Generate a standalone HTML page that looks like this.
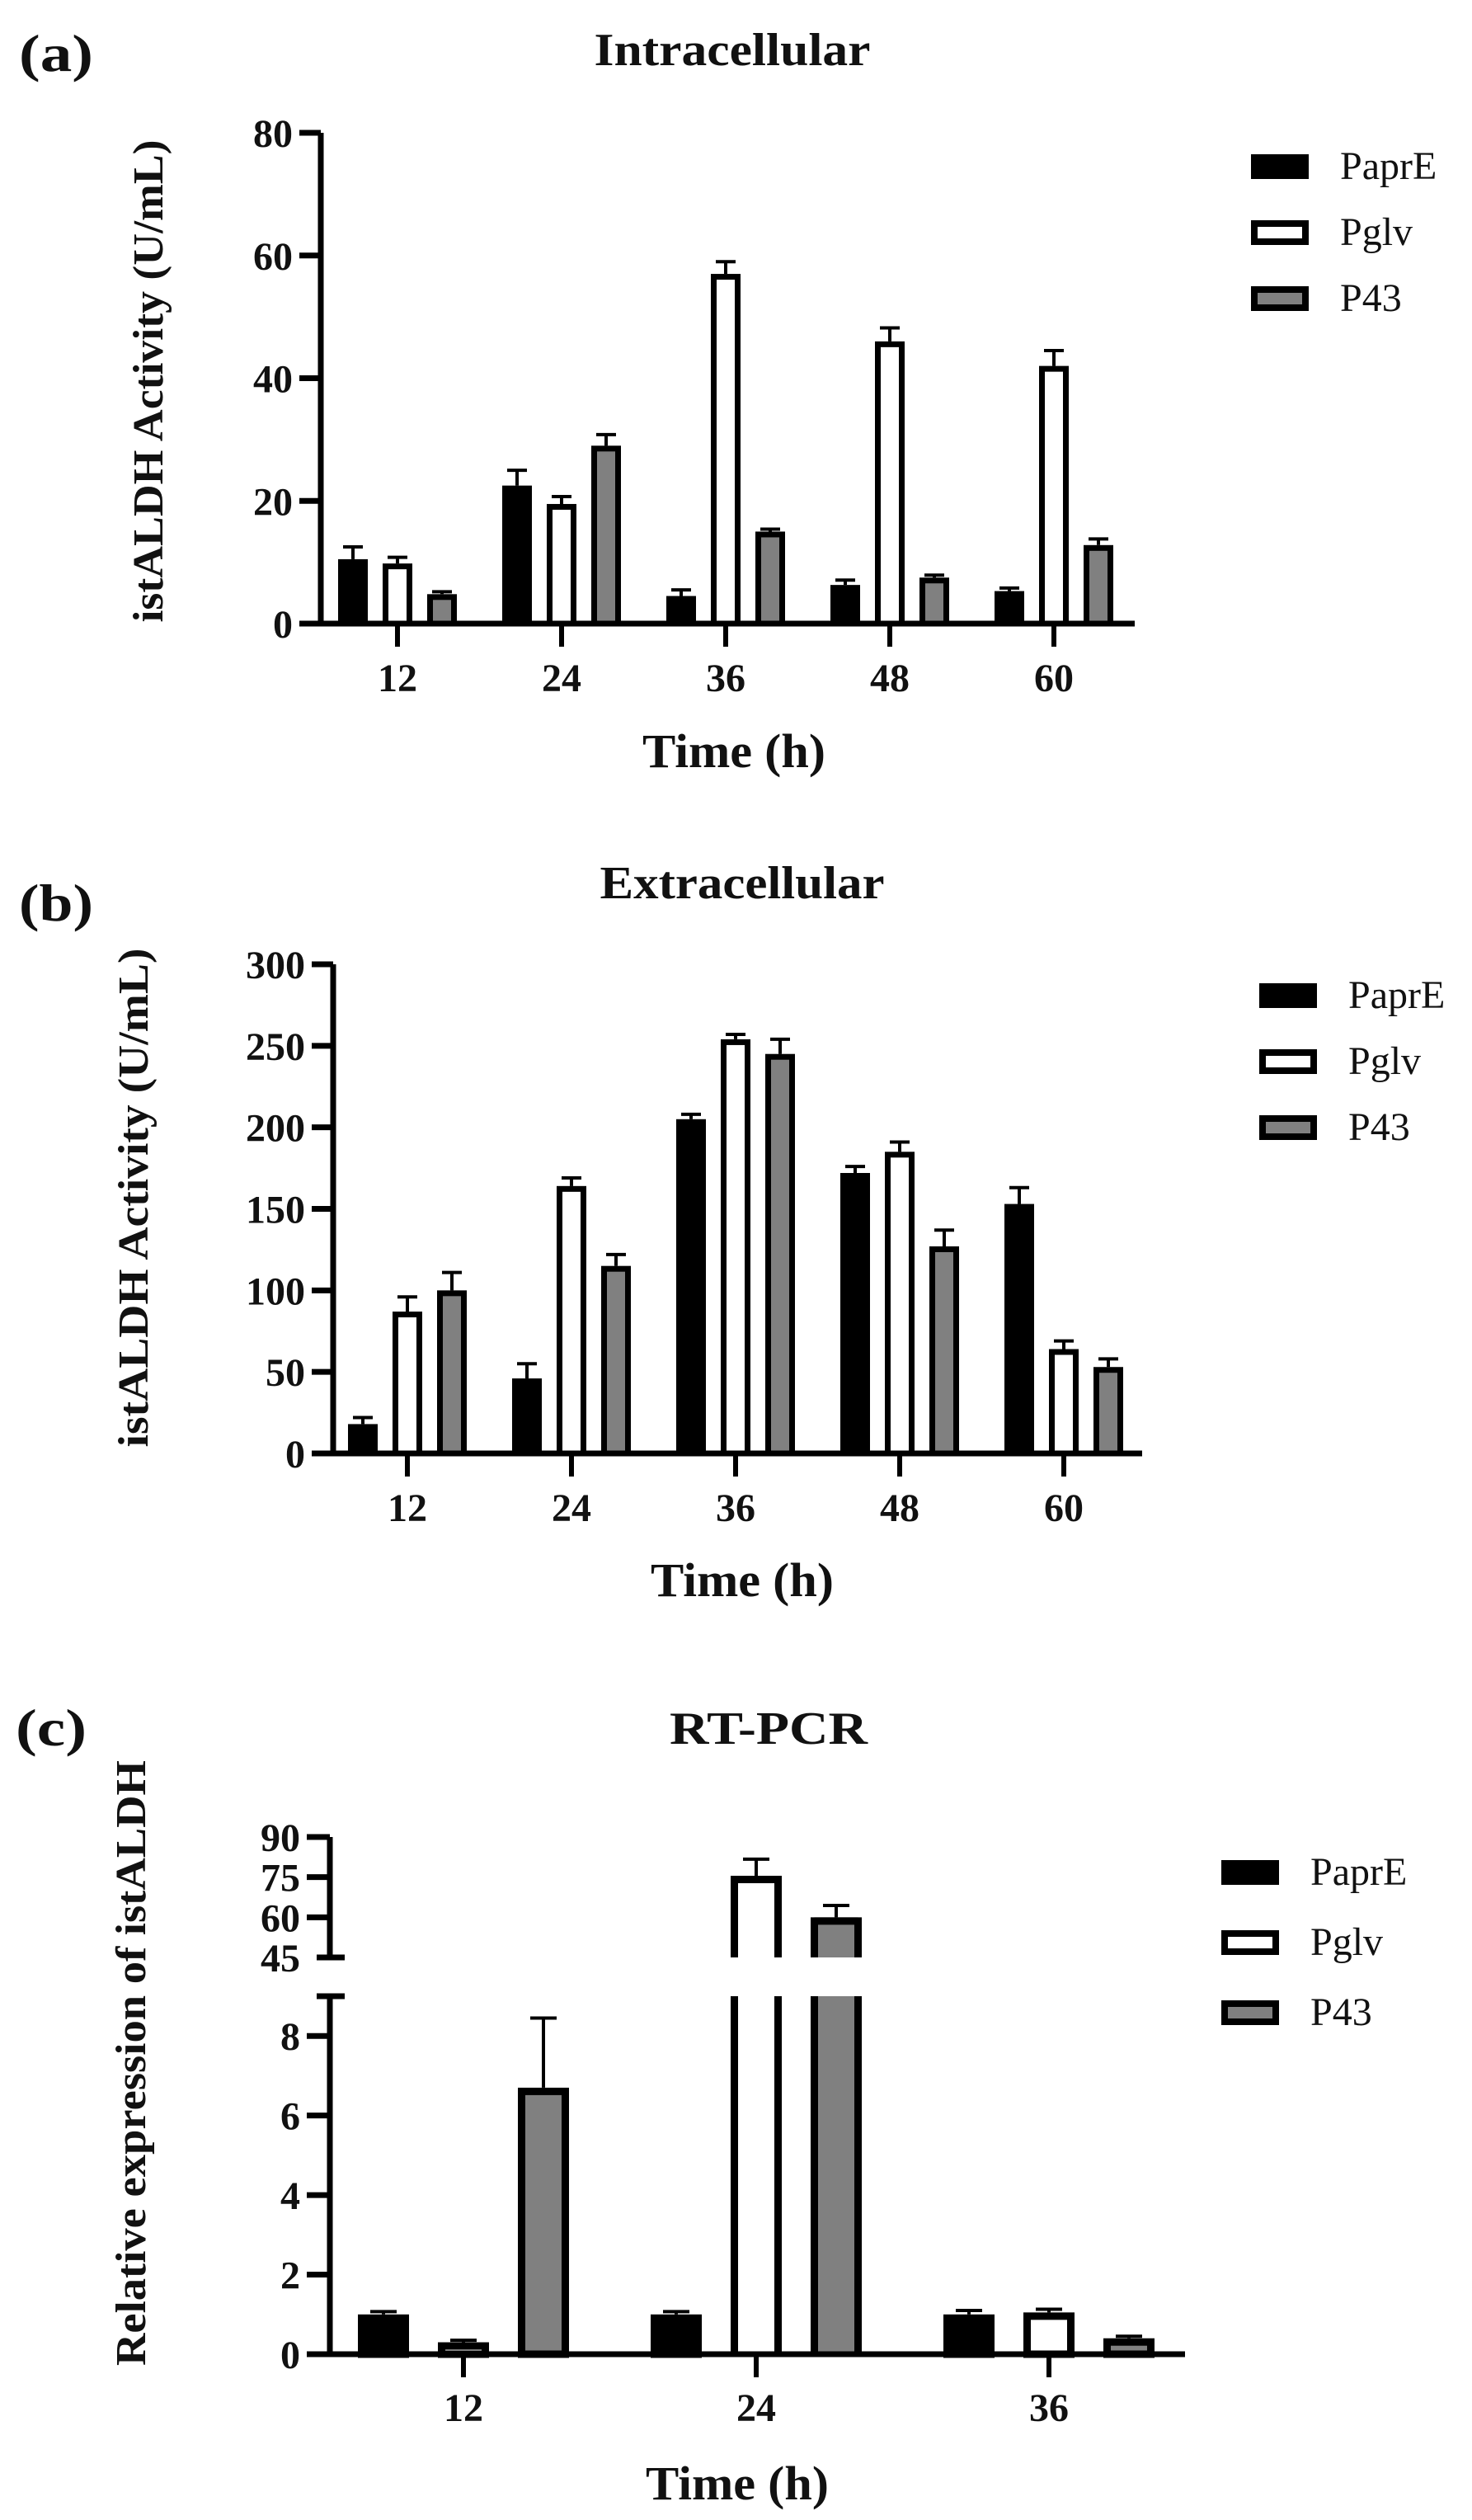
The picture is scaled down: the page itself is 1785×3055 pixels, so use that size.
<!DOCTYPE html>
<html><head><meta charset="utf-8">
<style>
html,body{margin:0;padding:0;background:#fff;}
svg{display:block;}
text{font-family:"Liberation Serif",serif;fill:#111;}
.b{font-weight:bold;}
</style></head>
<body>
<svg id="fig" width="1785" height="3055" viewBox="0 0 1785 3055" xmlns="http://www.w3.org/2000/svg"></svg>
<script>
// ---------- data ----------
const timesAB = ["12","24","36","48","60"];
const timesC = ["12","24","36"];
const seriesNames = ["PaprE","Pglv","P43"];
const seriesFill = ["#000000","#ffffff","#808080"];

const intraPaprE = [10.5, 22.5, 4.5, 6.3, 5.3];
const intraPaprEErr = [2.0, 2.5, 1.0, 0.8, 0.5];
const intraPglv = [9.8, 19.5, 57, 46, 42];
const intraPglvErr = [1.0, 1.2, 2.0, 2.2, 2.5];
const intraP43 = [4.8, 29, 15, 7.5, 12.8];
const intraP43Err = [0.4, 1.8, 0.4, 0.4, 1.0];
const intraTicks = [0,20,40,60,80];

const extraPaprE = [18, 46, 205, 172, 153];
const extraPaprEErr = [4, 9, 3, 4, 10];
const extraPglv = [87, 164, 254, 185, 64];
const extraPglvErr = [9, 5, 3, 6, 5];
const extraP43 = [100, 115, 245, 127, 53];
const extraP43Err = [11, 7, 9, 10, 5];
const extraTicks = [0,50,100,150,200,250,300];

const rtPaprE = [1.0, 1.0, 1.0];
const rtPaprEErr = [0.07, 0.07, 0.1];
const rtPglv = [0.3, 75.5, 1.05];
const rtPglvErr = [0.05, 6.2, 0.08];
const rtP43 = [6.7, 60, 0.4];
const rtP43Err = [1.75, 4.4, 0.05];
const rtTicksLow = [0,2,4,6,8];
const rtTicksHigh = [45,60,75,90];

// ---------- helpers ----------
const svg = document.getElementById('fig');
const NS = 'http://www.w3.org/2000/svg';
function mk(tag, attrs, parent){
  const e = document.createElementNS(NS, tag);
  for (const k in attrs) e.setAttribute(k, attrs[k]);
  (parent||svg).appendChild(e);
  return e;
}
function txt(s, x, y, size, cls, anchor, parent, len){
  const t = mk('text', {x:x, y:y, 'font-size':size, 'text-anchor':anchor||'middle'}, parent);
  if (cls) t.setAttribute('class', cls);
  if (len) { t.setAttribute('textLength', len); t.setAttribute('lengthAdjust', 'spacingAndGlyphs'); }
  t.textContent = s;
  return t;
}

function standardPanel(cfg){
  const g = mk('g', {});
  
  
  const yScale = v => cfg.y0 - (v - cfg.ymin) / (cfg.ymax - cfg.ymin) * (cfg.y0 - cfg.ytop);
  const xScale = i => cfg.x0 + i * cfg.step;
  const pl = txt(cfg.label, 68, cfg.labelY, 64, 'b', 'middle', g, 90);
  
  
  const ti = txt(cfg.title, cfg.titleX, cfg.titleY, 56, 'b', 'middle', g, cfg.titleLen);
  
  
  const sw = cfg.sw;
  cfg.series.forEach((vals, s) => {
    vals.forEach((v, i) => {
      const cx = xScale(i) + (s - 1) * cfg.off;
      const top = yScale(v);
      const r = mk('rect', {x: cx - cfg.bw/2 + sw/2, y: top + sw/2, width: cfg.bw - sw, height: Math.max(0, cfg.y0 - top - sw/2), fill: seriesFill[s], stroke:'#000', 'stroke-width': sw}, g);
      
      
      const et = yScale(v + cfg.errs[s][i]);
      const e = mk('path', {d: `M${cx},${top} V${et} M${cx-12},${et} H${cx+12}`, stroke:'#000', 'stroke-width':4, fill:'none'}, g);
      
      
    });
  });
  const ax = mk('path', {d:`M${cfg.ax},${cfg.ytop} V${cfg.y0} H${cfg.xend}`, stroke:'#000', 'stroke-width':7, fill:'none'}, g);
  
  
  cfg.ticks.forEach(t => {
    const y = yScale(t);
    mk('line', {x1: cfg.ax - 26, x2: cfg.ax, y1: y, y2: y, stroke:'#000', 'stroke-width':7}, g);
    const tl = txt(String(t), cfg.ax - 34, y + 17, 48, 'b', 'end', g);
    
    
  });
  cfg.cats.forEach((c, i) => {
    const x = xScale(i);
    mk('line', {x1:x, x2:x, y1:cfg.y0, y2:cfg.y0 + 28, stroke:'#000', 'stroke-width':6}, g);
    const tl = txt(c, x, cfg.y0 + 82, 48, 'b', 'middle', g);
    
    
  });
  const xt = txt('Time (h)', cfg.xtX, cfg.xtY, 58, 'b', 'middle', g, 222);
  
  
  const yt = txt(cfg.ytitle, 0, 0, 52, 'b', 'middle', g, cfg.ytLen);
  yt.setAttribute('transform', `translate(${cfg.ytX},${cfg.ytY}) rotate(-90)`);
  
  
  legend(g, cfg.legX, cfg.legY, cfg.legStep);
}

function legend(g, x, y, step){
  seriesNames.forEach((n, s) => {
    const yy = y + s * step;
    const r = mk('rect', {x:x+4, y:yy+4, width:62, height:22, fill:seriesFill[s], stroke:'#000', 'stroke-width':8}, g);
    
    
    const t = txt(n, x + 108, yy + 30, 48, '', 'start', g);
    
    
  });
}

standardPanel({name:'panel-a-intracellular', label:'(a)', labelY:86, title:'Intracellular', titleX:888, titleY:79, titleLen:335,
  cats:timesAB, series:[intraPaprE,intraPglv,intraP43], errs:[intraPaprEErr,intraPglvErr,intraP43Err],
  ymin:0, ymax:80, y0:756, ytop:161, ticks:intraTicks, x0:482, step:199, off:54, bw:36, sw:7,
  ax:389, xend:1376, xtX:890, xtY:930, ytitle:'istALDH Activity (U/mL)', ytLen:585, ytX:197, ytY:462,
  legX:1517, legY:187, legStep:80});

standardPanel({name:'panel-b-extracellular', label:'(b)', labelY:1116, title:'Extracellular', titleX:900, titleY:1089, titleLen:345,
  cats:timesAB, series:[extraPaprE,extraPglv,extraP43], errs:[extraPaprEErr,extraPglvErr,extraP43Err],
  ymin:0, ymax:300, y0:1762, ytop:1169, ticks:extraTicks, x0:494, step:199, off:54, bw:36, sw:7,
  ax:404, xend:1385, xtX:900, xtY:1935, ytitle:'istALDH Activity (U/mL)', ytLen:605, ytX:179, ytY:1452,
  legX:1527, legY:1192, legStep:80});

(function(){
  const g = mk('g', {});
  
  
  const y0 = 2854, lowTopV = 9, lowTopY = 2420, hiBotV = 45, hiBotY = 2373, hiTopV = 90, hiTopY = 2227;
  const yLow = v => y0 - v / lowTopV * (y0 - lowTopY);
  const yHigh = v => hiBotY - (v - hiBotV) / (hiTopV - hiBotV) * (hiBotY - hiTopY);
  const ax = 400, x0 = 562, step = 355, off = 97, bw = 62, sw = 9;
  const pl = txt('(c)', 62, 2116, 64, 'b', 'middle', g, 86);
  
  
  const ti = txt('RT-PCR', 932, 2114, 56, 'b', 'middle', g, 240);
  
  
  const series = [rtPaprE, rtPglv, rtP43], errs = [rtPaprEErr, rtPglvErr, rtP43Err];
  series.forEach((vals, s) => {
    vals.forEach((v, i) => {
      const cx = x0 + i * step + (s - 1) * off;
      const L = cx - bw/2 + sw/2, R = cx + bw/2 - sw/2;
      let el, top;
      if (v <= lowTopV) {
        top = yLow(v);
        el = mk('rect', {x:L, y:top + sw/2, width:R-L, height:y0 - top - sw/2, fill:seriesFill[s], stroke:'#000', 'stroke-width':sw}, g);
      } else {
        top = yHigh(v);
        el = mk('g', {}, g);
        mk('rect', {x:L, y:lowTopY, width:R-L, height:y0-lowTopY, fill:seriesFill[s]}, el);
        mk('rect', {x:L, y:top, width:R-L, height:hiBotY-top, fill:seriesFill[s]}, el);
        mk('path', {d:`M${L},${y0} V${lowTopY} M${R},${y0} V${lowTopY} M${L},${hiBotY} V${top+sw/2} H${R} V${hiBotY}`, stroke:'#000', 'stroke-width':sw, fill:'none'}, el);
      }
      
      
      const ev = v + errs[s][i];
      const et = v <= lowTopV ? yLow(ev) : yHigh(ev);
      const e = mk('path', {d:`M${cx},${top} V${et} M${cx-16},${et} H${cx+16}`, stroke:'#000', 'stroke-width':4, fill:'none'}, g);
      
      
    });
  });
  const axp = mk('path', {d:`M${ax},${lowTopY} V${y0} H1437 M${ax},${hiTopY} V${hiBotY} M${ax-16},${hiBotY} H${ax+18} M${ax-16},${lowTopY} H${ax+18}`, stroke:'#000', 'stroke-width':7, fill:'none'}, g);
  
  
  rtTicksLow.forEach(t => {
    const y = yLow(t);
    mk('line', {x1:ax-28, x2:ax, y1:y, y2:y, stroke:'#000', 'stroke-width':7}, g);
    const tl = txt(String(t), ax-36, y+17, 48, 'b', 'end', g);
    
    
  });
  rtTicksHigh.forEach(t => {
    const y = yHigh(t);
    if (t !== hiBotV) mk('line', {x1:ax-28, x2:ax, y1:y, y2:y, stroke:'#000', 'stroke-width':7}, g);
    const tl = txt(String(t), ax-36, y+17, 48, 'b', 'end', g);
    
    
  });
  timesC.forEach((c, i) => {
    const x = x0 + i * step;
    mk('line', {x1:x, x2:x, y1:y0, y2:y0+28, stroke:'#000', 'stroke-width':6}, g);
    const tl = txt(c, x, 2935, 48, 'b', 'middle', g);
    
    
  });
  const xt = txt('Time (h)', 894, 3030, 58, 'b', 'middle', g, 222);
  
  
  const yt = txt('Relative expression of istALDH', 0, 0, 52, 'b', 'middle', g, 734);
  yt.setAttribute('transform', 'translate(176,2501) rotate(-90)');
  
  
  legend(g, 1481, 2255, 85);
})();
</script>
</body></html>
